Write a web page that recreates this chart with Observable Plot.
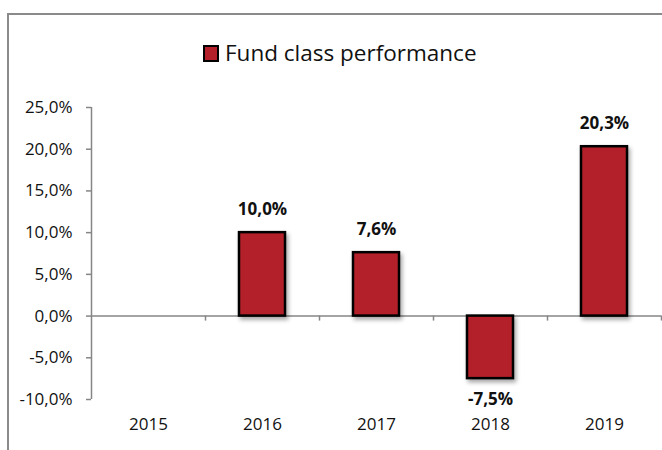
<!DOCTYPE html>
<html><head><meta charset="utf-8">
<script src="https://cdn.jsdelivr.net/npm/d3@7"></script>
<script src="https://cdn.jsdelivr.net/npm/@observablehq/plot@0.6"></script>
<style>
body{margin:0;background:#fff;}
#wrap{position:relative;width:662px;height:450px;overflow:hidden;font-family:"Open Sans",sans-serif;}
#border{position:absolute;left:7px;top:13px;width:720px;height:520px;border:2px solid #8a8a8a;box-sizing:border-box;}
#chart{position:absolute;left:0;top:0;}
#legend{position:absolute;left:203px;top:38px;display:flex;align-items:center;font-size:22.5px;color:#111;line-height:30px;height:30px;}
#legend .sw{width:12px;height:13px;background:#B3202A;border:2px solid #000;margin-right:6px;}
#chart g[aria-label="bar"]{filter:drop-shadow(2px 3px 2px rgba(0,0,0,0.35));}
</style>
</head><body>
<div id="wrap">
  <div id="border"></div>
  <div id="chart"></div>
  <div id="legend"><span class="sw"></span><span>Fund class performance</span></div>
</div>
<script>
const years = ["2015","2016","2017","2018","2019"];
const values = [null, 10.0, 7.6, -7.5, 20.3];
const yTicks = [-10,-5,0,5,10,15,20,25];
const seriesName = "Fund class performance";

const data = years.map((year,i)=>({year, value: values[i]}));
const bars = data.filter(d=>d.value!=null);
const fmt = v => v.toFixed(1).replace(".", ",") + "%";
const axisGray = "#868686";

const chart = Plot.plot({
  width: 662, height: 450,
  marginLeft: 91, marginRight: 1, marginTop: 107, marginBottom: 51,
  x: {domain: years, paddingInner: 0.6, paddingOuter: 0.3, label: null},
  y: {domain: [-10, 25], label: null},
  style: {fontFamily: "'Open Sans', sans-serif", background: "transparent", overflow: "visible"},
  marks: [
    Plot.axisY({ticks: yTicks, tickFormat: fmt, tickSize: 5, tickPadding: 14, stroke: axisGray, fill: "#111", fontSize: 17, strokeWidth: 1.5}),
    Plot.axisX({tickSize: 0, tickPadding: 18, fill: "#111", fontSize: 17}),
    Plot.ruleY([0], {stroke: axisGray, strokeWidth: 1.5}),
    Plot.ruleX(years, {x: d=>d, y1: 0, y2: -0.6, dx: 57, stroke: axisGray, strokeWidth: 1.5}),
    Plot.ruleX([years[0]], {x: d=>d, y1: -10, y2: 25, dx: -57, stroke: axisGray, strokeWidth: 1.5}),
    Plot.barY(bars, {x: "year", y: "value", fill: "#B3202A", stroke: "#000", strokeWidth: 2.5}),
    Plot.text(bars.filter(d=>d.value>=0), {x: "year", y: "value", text: d=>fmt(d.value), dy: -23, fontWeight: "bold", fontSize: 17, fill: "#111"}),
    Plot.text(bars.filter(d=>d.value<0), {x: "year", y: "value", text: d=>fmt(d.value), dy: 21, fontWeight: "bold", fontSize: 17, fill: "#111"})
  ]
});
document.getElementById("chart").appendChild(chart);
</script>
</body></html>
